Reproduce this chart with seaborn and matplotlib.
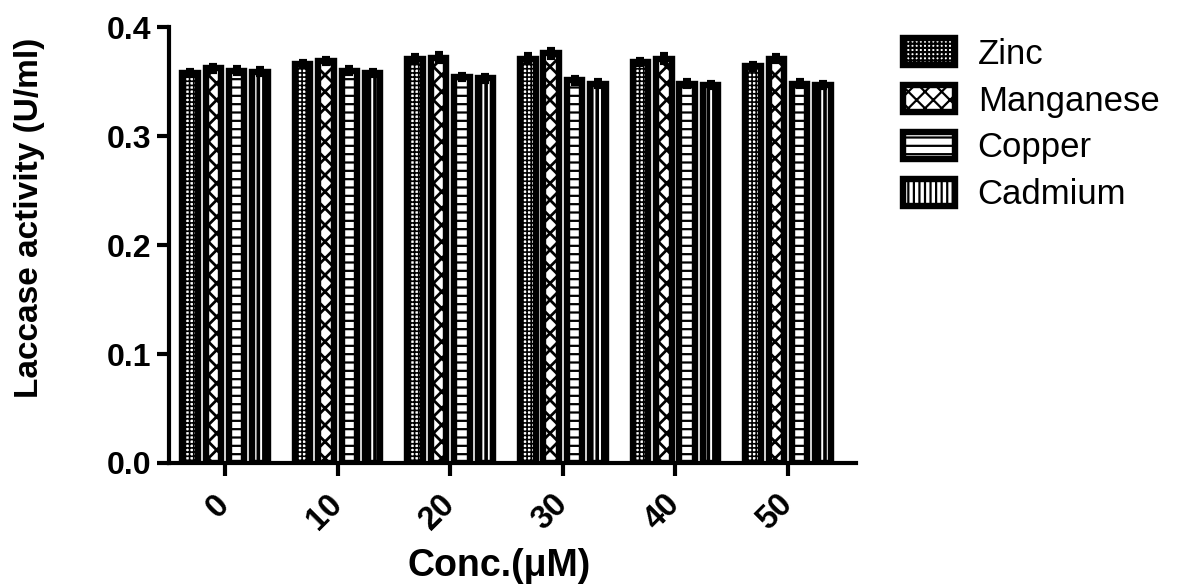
import matplotlib
matplotlib.use("Agg")
import matplotlib.pyplot as plt
import matplotlib.patches as mpatches
import pandas as pd
import seaborn as sns

# Laccase activity at each metal concentration
concentrations = ["0", "10", "20", "30", "40", "50"]
metals = ["Zinc", "Manganese", "Copper", "Cadmium"]
zinc = [0.358, 0.366, 0.371, 0.371, 0.368, 0.364]
manganese = [0.362, 0.369, 0.372, 0.376, 0.371, 0.371]
copper = [0.360, 0.360, 0.354, 0.351, 0.348, 0.348]
cadmium = [0.359, 0.358, 0.353, 0.348, 0.347, 0.347]
zinc_err = [0.003, 0.003, 0.003, 0.004, 0.003, 0.003]
manganese_err = [0.003, 0.003, 0.004, 0.004, 0.004, 0.003]
copper_err = [0.003, 0.003, 0.003, 0.003, 0.003, 0.003]
cadmium_err = [0.003, 0.003, 0.003, 0.003, 0.003, 0.003]

y_ticks = [0.0, 0.1, 0.2, 0.3, 0.4]

series = {"Zinc": zinc, "Manganese": manganese, "Copper": copper, "Cadmium": cadmium}
errors = {"Zinc": zinc_err, "Manganese": manganese_err, "Copper": copper_err, "Cadmium": cadmium_err}
hatches = {"Zinc": "++++", "Manganese": "xx", "Copper": "--", "Cadmium": "|||"}
hatch_lw = {"Zinc": 1.2, "Manganese": 2.0, "Copper": 1.6, "Cadmium": 2.6}

rows = []
for m in metals:
    for c, v in zip(concentrations, series[m]):
        rows.append({"conc": c, "activity": v, "metal": m})
df = pd.DataFrame(rows)

sns.set_theme(style="ticks")
plt.rcParams["font.family"] = ["Liberation Sans", "DejaVu Sans"]
for key in ["text.color", "axes.labelcolor", "xtick.color", "ytick.color", "axes.edgecolor"]:
    plt.rcParams[key] = "black"
plt.rcParams["hatch.linewidth"] = 1.6
plt.rcParams["hatch.color"] = "black"

fig = plt.figure(figsize=(11.82, 5.88), dpi=100)
ax = fig.add_axes([0.143, 0.2126, 0.7242 - 0.143, 0.954 - 0.2126])

edge_lw = 4.6
sns.barplot(data=df, x="conc", y="activity", hue="metal", order=concentrations,
            hue_order=metals, palette=["white"] * 4, edgecolor="black",
            linewidth=edge_lw, width=0.83, gap=0.34, errorbar=None,
            legend=False, ax=ax, saturation=1)


def style_patch(p, m):
    p.set_hatch(hatches[m])
    p.set_facecolor("white")
    p.set_edgecolor("black")
    p.set_linewidth(edge_lw)
    if hasattr(p, "set_hatch_linewidth"):
        p.set_hatch_linewidth(hatch_lw[m])


for cont, m in zip(ax.containers, metals):
    xs = []
    for p in cont.patches:
        style_patch(p, m)
        xs.append(p.get_x() + p.get_width() / 2)
    ax.errorbar(xs, series[m], yerr=errors[m], fmt="none", ecolor="black",
                elinewidth=3, capsize=3, capthick=3, zorder=1)

ax.set_xlim(-0.497, 5.603)
ax.set_ylim(0, 0.4)
ax.set_yticks(y_ticks)
ax.set_yticklabels([f"{t:.1f}" for t in y_ticks], fontsize=23, fontweight="bold")
ax.set_xticks(range(len(concentrations)))
ax.set_xticklabels(concentrations, fontsize=23.5, fontweight="bold", rotation=45,
                   ha="right", va="center", rotation_mode="anchor")

ax.set_xlabel("Conc.(\u03bcM)", fontsize=27, fontweight="bold")
ax.xaxis.set_label_coords(0.480, -0.195)
ax.set_ylabel("Laccase activity (U/ml)", fontsize=24, fontweight="bold")
ax.yaxis.set_label_coords(-0.180, 0.563)

sns.despine(ax=ax)
for side in ["left", "bottom"]:
    ax.spines[side].set_linewidth(3)
ax.tick_params(axis="y", length=9, width=3, direction="out", pad=3.5)
ax.tick_params(axis="x", length=9, width=3, direction="out", pad=17.5)

handles = []
for m in metals:
    h = mpatches.Patch(facecolor="white", edgecolor="black", linewidth=edge_lw,
                       hatch=hatches[m], label=m)
    if hasattr(h, "set_hatch_linewidth"):
        h.set_hatch_linewidth(hatch_lw[m])
    handles.append(h)
fig.legend(handles=handles, loc="upper left", bbox_to_anchor=(0.7637, 0.936),
           frameon=False, fontsize=25, handlelength=1.5, handleheight=0.8,
           handletextpad=0.66, labelspacing=0.4, borderaxespad=0, borderpad=0)

fig.savefig("out.png", dpi=100)
